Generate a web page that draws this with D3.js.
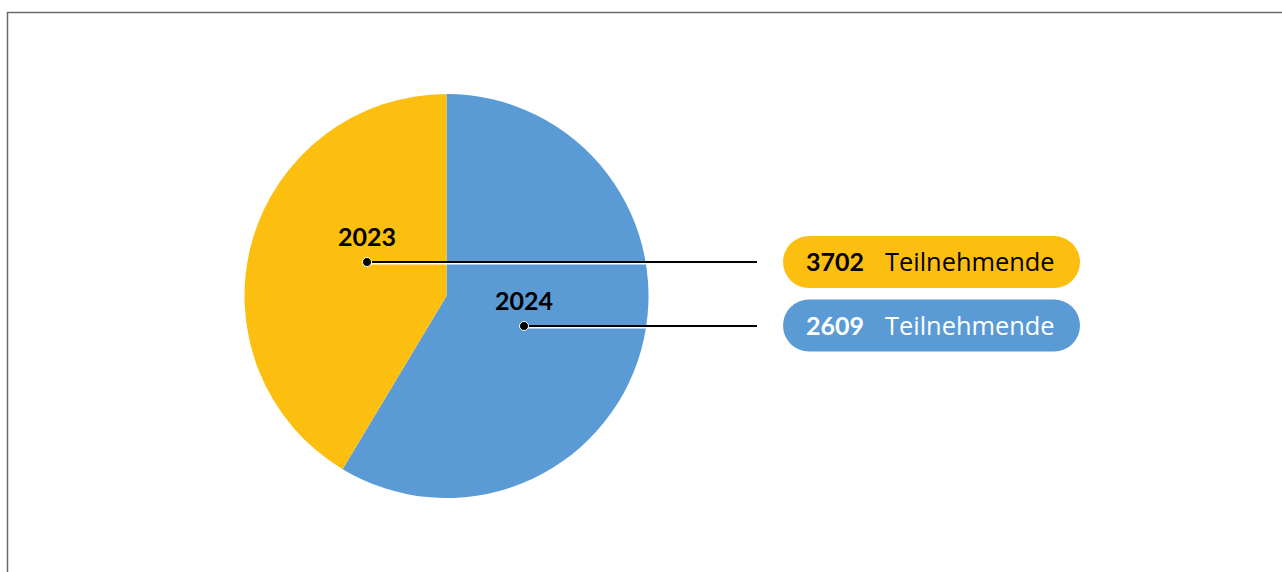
<!DOCTYPE html>
<html>
<head>
<meta charset="utf-8">
<script src="https://cdn.jsdelivr.net/npm/d3@7"></script>
<style>
  html, body { margin: 0; padding: 0; background: #fff; }
  svg { display: block; }
</style>
</head>
<body>
<svg id="chart" width="1282" height="572"></svg>
<script>
  const YELLOW = "#FDBF0F";
  const BLUE = "#5B9BD5";

  // Data
  const years = ["2023", "2024"];
  const participants = [3702, 2609];
  // slice shares as drawn in the picture (percent)
  const sliceShares = [41.4, 58.6];
  const colors = [YELLOW, BLUE];
  const textColors = ["#000", "#fff"];
  const unitLabel = "Teilnehmende";

  const svg = d3.select("#chart");

  // Frame
  svg.append("path")
    .attr("d", "M7.5,572 L7.5,12.5 L1282,12.5")
    .attr("fill", "none")
    .attr("stroke", "#6b6b6b")
    .attr("stroke-width", 1.5);

  const cx = 446.5, cy = 296, r = 202;

  const rows = years.map((y, i) => ({
    year: y, count: participants[i], share: sliceShares[i],
    color: colors[i], text: textColors[i], i
  }));

  // Blue slice starts at 12 o'clock and runs clockwise
  const pie = d3.pie().sort(null).value(d => d.share);
  const arcs = pie([rows[1], rows[0]]);
  const arc = d3.arc().innerRadius(0).outerRadius(r);

  const g = svg.append("g").attr("transform", `translate(${cx},${cy})`);
  g.selectAll("path.slice")
    .data(arcs)
    .join("path")
    .attr("class", "slice")
    .attr("d", arc)
    .attr("fill", d => d.data.color);

  // Label anchors (offset from centre) and callout layout
  const anchors = [[-79.5, -34], [77.5, 30]];
  const lineEnd = 757;
  const pillX = 783, pillW = 297, pillH = 52;
  const pillY = [236, 299.5];

  rows.forEach((d, i) => {
    const ax = cx + anchors[i][0], ay = cy + anchors[i][1];

    // year label
    svg.append("text")
      .attr("x", ax - 29).attr("y", ay - 16)
      .attr("font-family", "Lato, 'Open Sans', sans-serif")
      .attr("font-weight", "bold")
      .attr("font-size", 25)
      .attr("fill", "#000")
      .text(d.year);

    // leader line with white halo
    svg.append("line")
      .attr("x1", ax).attr("x2", lineEnd)
      .attr("y1", ay + 1.5).attr("y2", ay + 1.5)
      .attr("stroke", "#fff").attr("stroke-width", 2);
    svg.append("line")
      .attr("x1", ax).attr("x2", lineEnd)
      .attr("y1", ay).attr("y2", ay)
      .attr("stroke", "#000").attr("stroke-width", 2);
    svg.append("circle")
      .attr("cx", ax).attr("cy", ay).attr("r", 4.5)
      .attr("fill", "#000").attr("stroke", "#fff").attr("stroke-width", 1);

    // pill
    svg.append("rect")
      .attr("x", pillX).attr("y", pillY[i])
      .attr("width", pillW).attr("height", pillH)
      .attr("rx", pillH / 2).attr("ry", pillH / 2)
      .attr("fill", d.color);

    const t = svg.append("text")
      .attr("y", pillY[i] + 35)
      .attr("fill", d.text);
    t.append("tspan")
      .attr("x", 806)
      .attr("font-family", "Lato, 'Open Sans', sans-serif")
      .attr("font-weight", "bold")
      .attr("font-size", 25)
      .text(d.count);
    t.append("tspan")
      .attr("x", 885)
      .attr("font-family", "'Open Sans', sans-serif")
      .attr("font-size", 25.4)
      .text(unitLabel);
  });
</script>
</body>
</html>
